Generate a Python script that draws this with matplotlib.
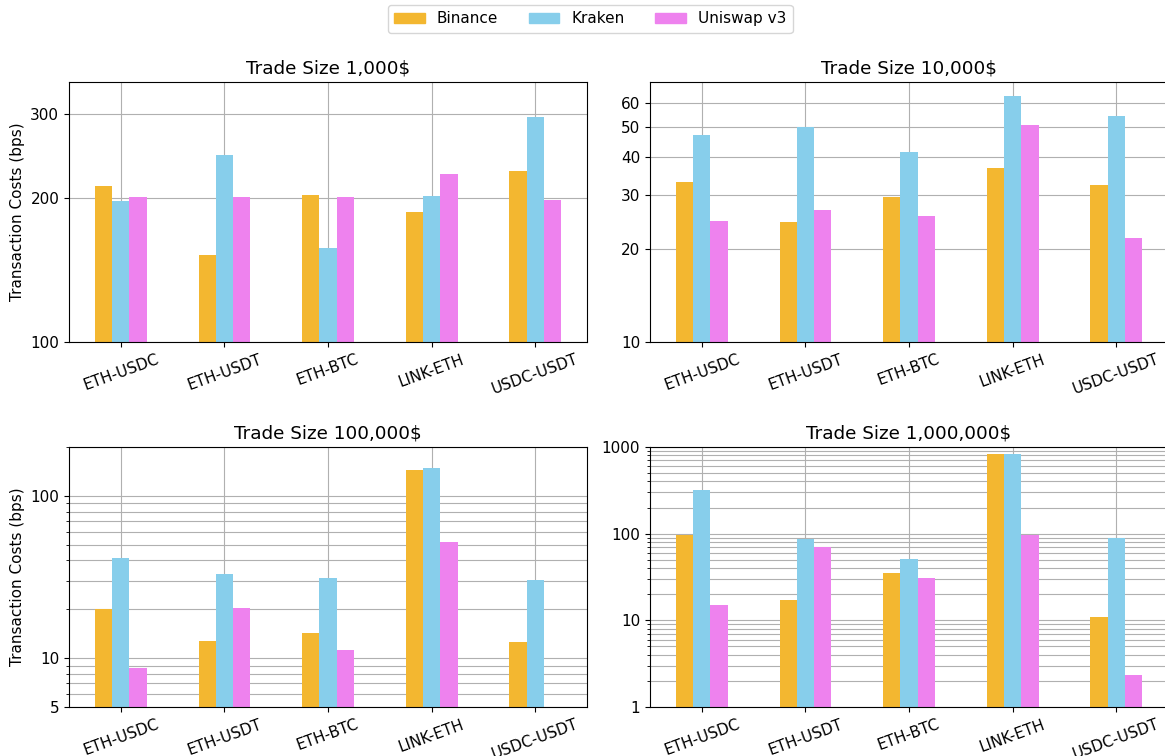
import numpy as np
import matplotlib
matplotlib.use("Agg")
import matplotlib.pyplot as plt
from matplotlib.ticker import FixedLocator, FixedFormatter, NullLocator, LogLocator, NullFormatter
from matplotlib.patches import Patch

plt.rcParams["font.family"] = ["DejaVu Sans"]
plt.rcParams["font.size"] = 11

# Trading pairs and venues
pairs = ["ETH-USDC", "ETH-USDT", "ETH-BTC", "LINK-ETH", "USDC-USDT"]
venues = ["Binance", "Kraken", "Uniswap v3"]
venue_colors = ["#F3B730", "#87CEEB", "#EE82EE"]

titles = ["Trade Size 1,000$", "Trade Size 10,000$",
          "Trade Size 100,000$", "Trade Size 1,000,000$"]

# Transaction costs in bps, per trade size
binance_1k = [212, 152, 203, 187, 228]
kraken_1k = [197, 246, 157, 202, 296]
uniswap_1k = [201, 201, 201, 225, 198]

binance_10k = [33.0, 24.5, 29.7, 36.9, 32.3]
kraken_10k = [47.2, 50.0, 41.3, 63.2, 54.1]
uniswap_10k = [24.7, 26.8, 25.6, 50.9, 21.7]

binance_100k = [20.0, 12.8, 14.3, 143.7, 12.6]
kraken_100k = [41.3, 33.0, 31.2, 147.8, 30.3]
uniswap_100k = [8.7, 20.4, 11.2, 51.9, 1.5]

binance_1m = [96, 17.1, 35.0, 824, 10.9]
kraken_1m = [317, 86.3, 50.8, 824, 89.5]
uniswap_1m = [15.0, 69.8, 30.7, 96, 2.34]

# Axis settings per panel
y_limits = [(100, 350), (10, 70), (5, 200), (1, 1000)]
y_ticks = [[100, 200, 300], [10, 20, 30, 40, 50, 60], [5, 10, 100], [1, 10, 100, 1000]]
y_ticklabels = [["100", "200", "300"], ["10", "20", "30", "40", "50", "60"],
                ["5", "10", "100"], ["1", "10", "100", "1000"]]
show_minor = [False, False, True, True]

panels = [
    (binance_1k, kraken_1k, uniswap_1k),
    (binance_10k, kraken_10k, uniswap_10k),
    (binance_100k, kraken_100k, uniswap_100k),
    (binance_1m, kraken_1m, uniswap_1m),
]

W, H = 1165, 756
fig = plt.figure(figsize=(W / 100, H / 100), dpi=100)

ax_w, ax_h = 518, 260
lefts = [69, 650]
tops = [82, 447]
boxes = []
for t in tops:
    for l in lefts:
        boxes.append([l / W, 1 - (t + ax_h) / H, ax_w / W, ax_h / H])

x = np.arange(len(pairs))
bar_w = 0.5 / len(venues)

for i, box in enumerate(boxes):
    ax = fig.add_axes(box)
    series = panels[i]
    for j, (vals, col) in enumerate(zip(series, venue_colors)):
        ax.bar(x + (j - 1) * bar_w, vals, width=bar_w, color=col, label=venues[j])
    ax.set_yscale("log")
    ax.set_ylim(*y_limits[i])
    ax.set_xlim(-0.5, len(pairs) - 0.5)
    ax.yaxis.set_major_locator(FixedLocator(y_ticks[i]))
    ax.yaxis.set_major_formatter(FixedFormatter(y_ticklabels[i]))
    if show_minor[i]:
        ax.yaxis.set_minor_locator(LogLocator(base=10, subs=np.arange(2, 10)))
        ax.yaxis.set_minor_formatter(NullFormatter())
        ax.yaxis.grid(True, which="minor")
    else:
        ax.yaxis.set_minor_locator(NullLocator())
    ax.set_xticks(x)
    ax.set_xticklabels(pairs, rotation=20)
    ax.grid(True, which="major")
    ax.set_axisbelow(True)
    ax.set_title(titles[i])
    if i % 2 == 0:
        ax.set_ylabel("Transaction Costs (bps)")

handles = [Patch(color=c, label=v) for v, c in zip(venues, venue_colors)]
fig.legend(handles=handles, loc="upper center", bbox_to_anchor=(0.5066, 1.003), ncol=3)

fig.savefig("out.png", dpi=100)
